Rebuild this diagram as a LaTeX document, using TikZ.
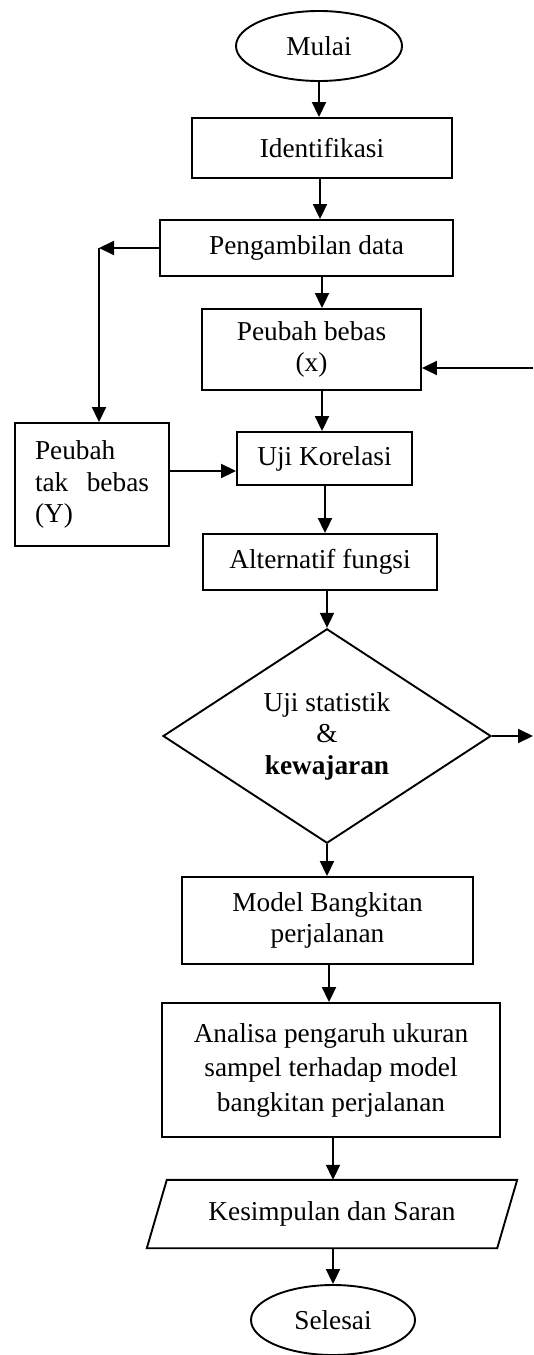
\documentclass[tikz,border=0pt]{standalone}
\usepackage{fontspec}
\setmainfont{Liberation Serif}
\usetikzlibrary{shapes.geometric,arrows.meta,calc}
\begin{document}
\begin{tikzpicture}[x=1pt,y=-1pt,
  every node/.style={font=\fontsize{27.3}{31.5}\selectfont, inner sep=0pt},
  box/.style={draw, line width=1.9pt, rectangle, align=center},
  term/.style={draw, line width=1.9pt, ellipse, minimum width=166pt, minimum height=70pt},
  decision/.style={draw, line width=1.9pt, diamond, align=center},
  arr/.style={line width=1.9pt, -{Triangle[length=15pt,width=14pt]}},
  ln/.style={line width=1.9pt}]
\useasboundingbox (0,0) rectangle (533,1355);

% nodes
\node[term] (mulai) at (319,46) {Mulai};
\node[box, minimum width=260pt, minimum height=60pt] (ident) at (322,148) {Identifikasi};
\node[box, minimum width=293pt, minimum height=56pt] (peng) at (306.5,248) {Pengambilan data};
\node[box, minimum width=219pt, minimum height=81pt] (pb) at (311.5,349.5) {Peubah bebas\\(x)};
\node[box, minimum width=154pt, minimum height=123pt, text width=114pt, align=left] (ptb) at (92,484.5) {Peubah\\tak\hfill bebas\\(Y)};
\node[box, minimum width=175pt, minimum height=53pt] (uji) at (324.5,458.5) {Uji Korelasi};
\node[box, minimum width=234pt, minimum height=56pt] (alt) at (320,562) {Alternatif fungsi};
\node[decision, minimum width=328pt, minimum height=206pt] (dia) at (327,736) {Uji statistik\\\&\\\textbf{kewajaran}};
\node[box, minimum width=291pt, minimum height=87pt] (model) at (327.5,920.5) {Model Bangkitan\\perjalanan};
\node[box, minimum width=338pt, minimum height=134pt, font=\fontsize{27.3}{34.5}\selectfont] (ana) at (331,1070) {Analisa pengaruh ukuran\\sampel terhadap model\\bangkitan perjalanan};
\node[minimum width=350pt, minimum height=68pt] (kes) at (332,1214) {Kesimpulan dan Saran};
\draw[ln] ($(kes.south west)+(-10,0)$) -- ($(kes.north west)+(10,0)$) -- ($(kes.north east)+(10,0)$) -- ($(kes.south east)+(-10,0)$) -- cycle;
\node[term, minimum width=164pt] (sel) at (333,1320) {Selesai};

% helper coordinates
\coordinate (L) at (99,248);
\coordinate (R) at (533,368);
\coordinate (D) at (533,736);
\coordinate (r471) at (0,471);
\coordinate (c320) at (320,0);
\coordinate (c322) at (322,0);
\coordinate (c325) at (325,0);
\coordinate (c327) at (327,0);
\coordinate (c329) at (329,0);
\coordinate (c333) at (333,0);

% connectors
\draw[arr] (mulai.south) -- (mulai.south |- ident.north);
\draw[arr] (ident.south -| c320) -- (peng.north -| c320);
\draw[arr] (peng.south -| c322) -- (pb.north -| c322);
\draw[arr] (pb.south -| c322) -- (uji.north -| c322);
\draw[arr] (uji.south -| c325) -- (alt.north -| c325);
\draw[arr] (alt.south -| c327) -- (dia.north);
\draw[arr] (dia.south) -- (dia.south |- model.north);
\draw[arr] (model.south -| c329) -- (ana.north -| c329);
\draw[arr] (ana.south -| c333) -- (kes.north -| c333);
\draw[arr] (kes.south -| c333) -- (sel.north);
\draw[arr] (peng.west) -- (L);
\draw[arr] (L) -- (L |- ptb.north);
\draw[arr] (R) -- (R -| pb.east);
\draw[arr] (ptb.east |- r471) -- (uji.west |- r471);
\draw[arr] (dia.east) -- (D);
\end{tikzpicture}
\end{document}
